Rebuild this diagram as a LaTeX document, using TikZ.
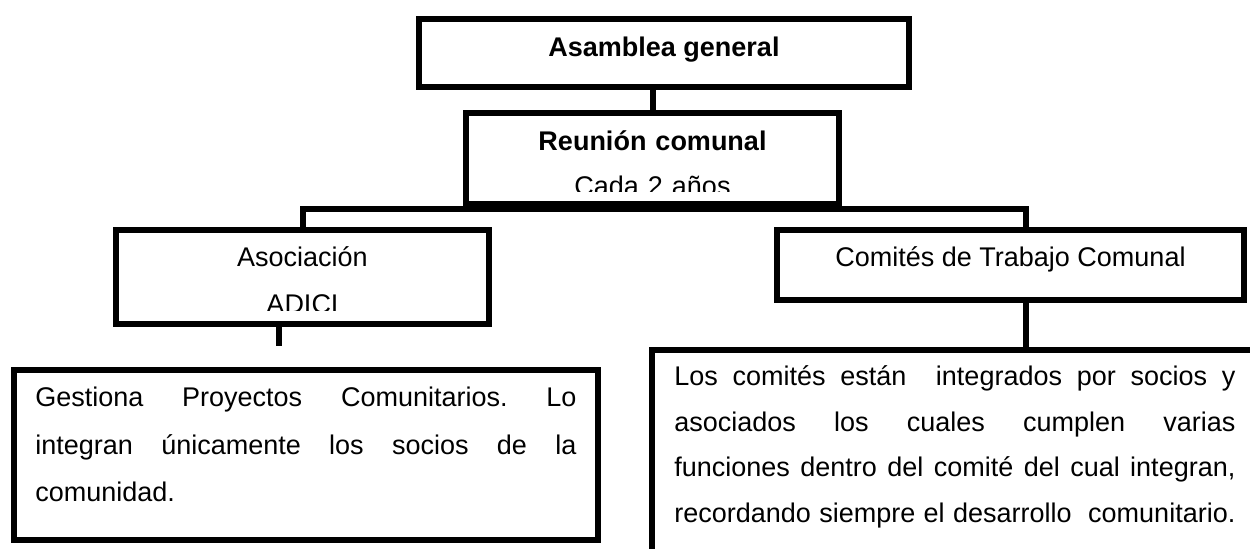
\documentclass[tikz,border=0pt]{standalone}
\usepackage{fontspec}
\setmainfont{Liberation Sans}
\newcommand{\llena}[2]{\makebox[#1][s]{\spaceskip=.278em plus 1fil\xspaceskip=\spaceskip #2}}
\tikzset{
  caja/.style={draw, line width=3pt, inner sep=0pt},
  linea/.style={line width=3pt},
  rotulo/.style={inner sep=0pt, anchor=base, align=center, text width=#1},
  parrafo/.style={inner sep=0pt, anchor=base west, text width=#1},
}
\begin{document}
\begin{tikzpicture}[x=0.5pt, y=-0.5pt, font=\fontsize{13.5}{16}\selectfont]
\useasboundingbox (0,0) rectangle (1250,549);

% cajas
\node[caja, minimum width=245pt, minimum height=34pt, text height=9.5pt, text depth=5.5pt,
      font=\fontsize{13.5}{16}\selectfont\bfseries] (asamblea) at (664,53) {Asamblea general};
\node[caja, minimum width=186.5pt, minimum height=45.5pt] (reunion) at (652.5,158.5) {};
\node[caja, minimum width=186.5pt, minimum height=47pt] (asociacion) at (302.5,277) {};
\node[caja, minimum width=233.5pt, minimum height=35pt, text height=9pt, text depth=7pt]
      (comites) at (1010.5,265) {Comités de Trabajo Comunal};
\node[caja, minimum width=292pt, minimum height=85pt] (gestiona) at (306,455) {};
\node[caja, minimum width=308pt, minimum height=110pt] (funciones) at (960,460) {};

% textos cortados por abajo
\begin{scope}
  \clip (466,113) rectangle (839,192);
  \node[rotulo=186pt, font=\fontsize{13.5}{22.5}\selectfont] (reunion-t) at (652.5,151)
    {\textbf{Reunión comunal}\\Cada 2 años};
\end{scope}
\begin{scope}
  \clip (116,230) rectangle (489,311);
  \node[rotulo=186pt, font=\fontsize{13.5}{23.5}\selectfont] (asociacion-t) at (302.5,267)
    {Asociación\\ADICI};
\end{scope}

\node[parrafo=270.5pt, font=\fontsize{13.5}{23.6}\selectfont] (gestiona-t) at (35,407)
  {\llena{270.5pt}{Gestiona Proyectos Comunitarios. Lo}\\
   \llena{270.5pt}{integran únicamente los socios de la}\\
   comunidad.};
\node[parrafo=280.5pt, font=\fontsize{13.5}{22.85}\selectfont] (funciones-t) at (674,385.5)
  {\llena{280.5pt}{Los comités están\ \ integrados por socios y}\\
   \llena{280.5pt}{asociados los cuales cumplen varias}\\
   \llena{280.5pt}{funciones dentro del comité del cual integran,}\\
   \llena{280.5pt}{recordando siempre el desarrollo\ \ comunitario.}};

% conectores
\coordinate (bus) at ([yshift=-1pt]reunion.south);
\coordinate (baja) at (1026,206);
\coordinate (cabo) at (278.5,346);
\draw[linea] (asamblea.south -| reunion.north) -- (reunion.north);
\draw[linea] (asociacion.north) |- (bus) -| (comites.north -| baja);
\draw[linea] (comites.south -| baja) -- (funciones.north -| baja);
\draw[linea] (asociacion.south -| cabo) -- (cabo);
\end{tikzpicture}
\end{document}
